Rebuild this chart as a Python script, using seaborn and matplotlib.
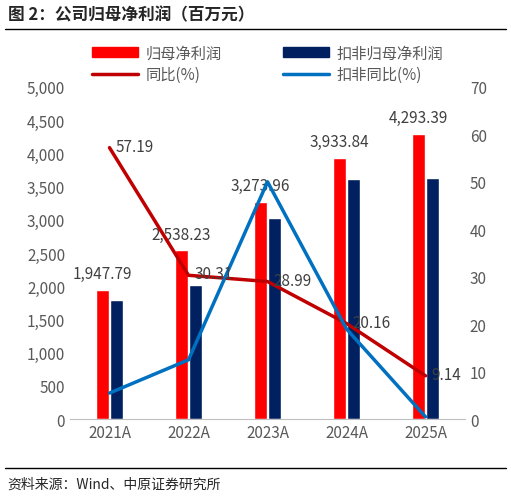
import matplotlib
matplotlib.use("Agg")
import matplotlib.pyplot as plt
import seaborn as sns
import pandas as pd
import numpy as np
from matplotlib.patches import Patch
from matplotlib.lines import Line2D

sns.set_style("white")
plt.rcParams['font.family'] = ['Noto Sans CJK SC', 'DejaVu Sans']

years = ["2021A", "2022A", "2023A", "2024A", "2025A"]
net_profit = [1947.79, 2538.23, 3273.96, 3933.84, 4293.39]
net_profit_ded = [1790, 2020, 3030, 3610, 3630]
yoy = [57.19, 30.31, 28.99, 20.16, 9.14]
yoy_ded = [5.5, 12.5, 50.0, 19.0, 0.5]

df = pd.DataFrame({"year": years * 2,
                   "value": net_profit + net_profit_ded,
                   "series": ["归母净利润"] * 5 + ["扣非归母净利润"] * 5})

fig = plt.figure(figsize=(5.11, 5.02), dpi=100)
ax = fig.add_axes([0.137, 0.163, 0.773, 0.662])
sns.barplot(data=df, x="year", y="value", hue="series", ax=ax,
            palette=["#FF0000", "#002060"], saturation=1, width=0.36, gap=0.1, legend=False)
ax.set_ylim(0, 5000)
ax.set_yticks(np.arange(0, 5001, 500))
ax.set_yticklabels([f"{v:,}" for v in range(0, 5001, 500)])
ax.set_xlabel(""); ax.set_ylabel("")
for s in ["top", "right", "left"]:
    ax.spines[s].set_visible(False)
ax.spines["bottom"].set_color("#BFBFBF")
ax.tick_params(colors="#595959", labelsize=11, length=0)

for i, v in enumerate(net_profit):
    ax.text(i - 0.09, v + 120, f"{v:,.2f}", ha="center", va="bottom", fontsize=11, color="#404040")

ax2 = ax.twinx()
x = np.arange(5)
ax2.plot(x, yoy, color="#C00000", lw=2.5)
ax2.plot(x, yoy_ded, color="#0070C0", lw=2.5)
ax2.set_ylim(0, 70)
ax2.set_yticks(range(0, 71, 10))
for s in ["top", "right", "left", "bottom"]:
    ax2.spines[s].set_visible(False)
ax2.tick_params(colors="#595959", labelsize=11, length=0)
for i, v in enumerate(yoy):
    ax2.text(i + 0.08, v + 0.3, f"{v:.2f}", ha="left", va="center", fontsize=11, color="#404040")
ax.set_xlim(-0.5, 4.5)

handles = [Patch(color="#FF0000"), Patch(color="#002060"),
           Line2D([], [], color="#C00000", lw=2.5), Line2D([], [], color="#0070C0", lw=2.5)]
labels = ["归母净利润", "扣非归母净利润", "同比(%)", "扣非同比(%)"]
order = [0, 2, 1, 3]
ax2.legend([handles[i] for i in order], [labels[i] for i in order], ncol=2, loc="lower center",
           bbox_to_anchor=(0.5, 0.97), frameon=False, fontsize=11, labelcolor="#595959",
           columnspacing=4, handlelength=3, handletextpad=0.5, labelspacing=0.3)

fig.text(0.015, 0.97, "图 2：公司归母净利润（百万元）", fontsize=12, fontweight="bold", va="center")
fig.add_artist(Line2D([0.01, 0.99], [0.94, 0.94], color="black", lw=1))
fig.add_artist(Line2D([0.01, 0.99], [0.065, 0.065], color="black", lw=1))
fig.text(0.015, 0.035, "资料来源：Wind、中原证券研究所", fontsize=10, va="center")
fig.savefig("out.png", dpi=100)
